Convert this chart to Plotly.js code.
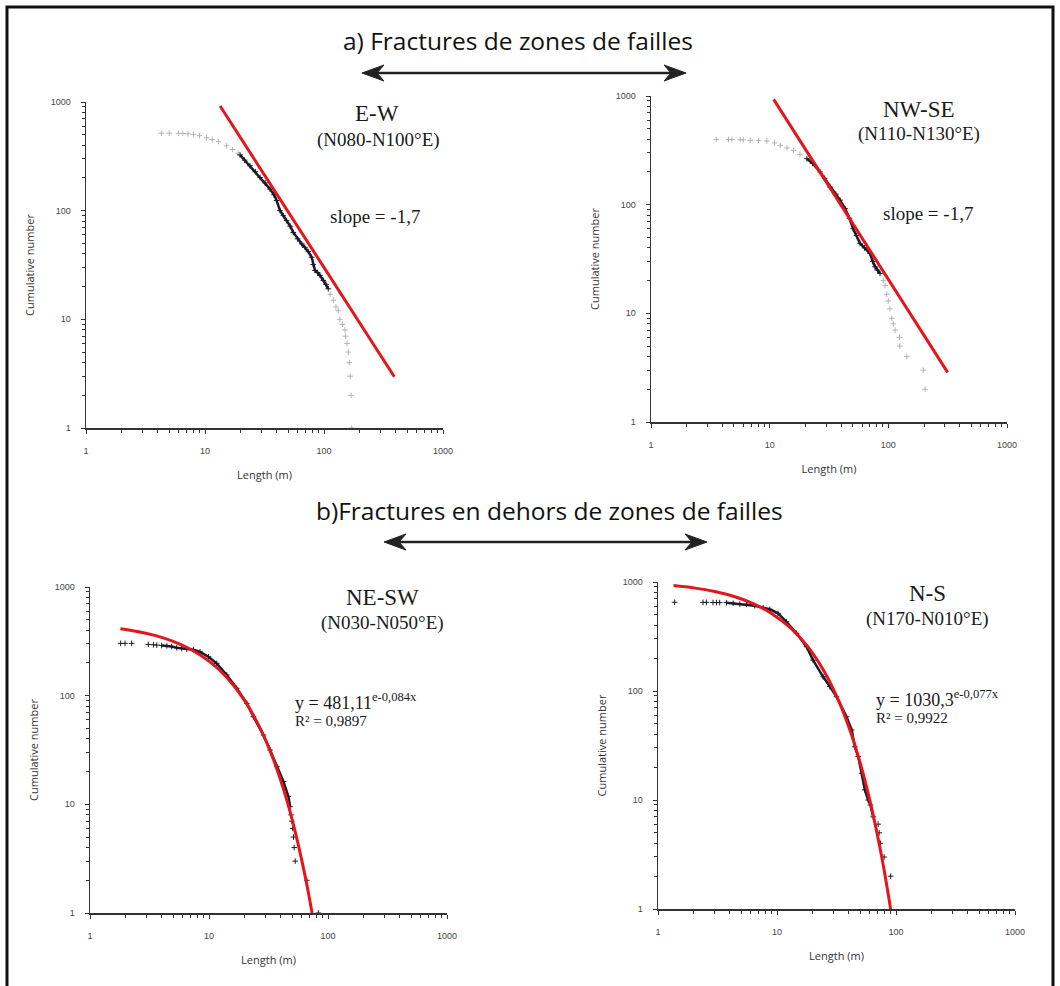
<!DOCTYPE html>
<html>
<head>
<meta charset="utf-8">
<script src="https://cdn.plot.ly/plotly-3.0.1.min.js"></script>
<style>html,body{margin:0;padding:0;background:#fff;}#chart{width:1060px;height:986px;}</style>
</head>
<body>
<div id="chart"></div>
<script>
// ---------- Data ----------
// a) E-W (N080-N100°E)
const EW_grey_x = [4.3, 5.0, 6.0, 6.5, 7.2, 8.0, 9.0, 10.3, 11.5, 13, 15.2, 17, 19, 113, 120, 126, 132, 136, 143, 150, 152, 156, 160, 163, 166, 169, 171];
const EW_grey_y = [516, 516, 515, 514, 510, 503, 490, 468, 452, 432, 395, 365, 338, 17, 15, 13, 12, 10, 9, 8, 7, 6, 5, 4, 3, 2, 1];
const EW_black_x = [19.7, 21.5, 23.9, 26.5, 29, 32, 35.2, 38, 40, 42.7, 45.5, 48.5, 52, 55.2, 60, 64.9, 69, 73.8, 78.7, 81, 84, 88, 92.5, 98.7, 104, 108.7];
const EW_black_y = [326, 292, 259, 228, 202, 180, 158, 140, 124, 100, 90, 81, 72, 63, 55, 49.5, 46, 42, 37.3, 32, 28.2, 27, 25.4, 22.8, 21, 19.1];
const EW_fit_x = [13.4, 390];
const EW_fit_y = [918, 2.96];

// a) NW-SE (N110-N130°E)
const NWSE_grey_x = [3.55, 4.5, 4.8, 5.65, 6.0, 6.85, 8.05, 9.47, 11, 12.3, 14, 15.9, 18, 90.8, 94, 96.9, 100, 103, 107, 110, 114, 124, 125, 143, 197, 204];
const NWSE_grey_y = [399, 398, 398, 396, 395, 391, 389, 385, 370, 351, 333, 316, 290, 20, 18, 15, 13, 11, 9, 8, 7, 6, 5, 4, 3, 2];
const NWSE_black_x = [20.6, 23, 26.6, 29, 32.3, 36, 39.2, 43.2, 47, 50.5, 54, 57.8, 63, 70.2, 74, 77.3, 81, 85.1];
const NWSE_black_y = [265, 240, 200, 175, 145, 125, 110, 92, 75, 60, 52, 44, 40, 35.5, 30, 26.8, 25, 23.3];
const NWSE_fit_x = [10.8, 316];
const NWSE_fit_y = [931, 2.86];

// b) NE-SW (N030-N050°E)
const NESW_sparse_x = [1.81, 1.97, 2.24, 3.09, 3.41, 3.64, 49, 49.7, 50.5, 51.3, 52, 53, 66.4, 83];
const NESW_sparse_y = [303, 303, 303, 296, 294, 292, 8, 7, 6, 5, 4, 3, 2, 1];
const NESW_dense_x = [4.0, 4.42, 4.86, 5.36, 5.9, 6.5, 7.4, 8.4, 9.9, 11.6, 14.1, 17.1, 20.8, 23.6, 28.7, 32.6, 37.2, 42.3, 46.5, 48.1];
const NESW_dense_y = [290, 288, 283, 276, 272, 269, 265, 253, 228, 198, 155, 117, 85, 64, 43.4, 31.6, 22.2, 16.2, 11.8, 9.5];
const NESW_fit_x = [1.8, 2.5, 3.5, 5, 7, 10, 14, 20, 27, 35, 45, 55, 65, 70, 73.5];
const NESW_fit_y = [413.6, 390, 358.6, 316.1, 267.2, 207.7, 148.4, 89.7, 49.8, 25.4, 10.98, 4.74, 2.05, 1.345, 1.0];

// b) N-S (N170-N010°E)
const NS_sparse_x = [1.38, 2.39, 2.55, 2.9, 3.1, 3.3, 70.8, 72.2, 74, 79.5, 90.2];
const NS_sparse_y = [651, 650, 650, 648, 648, 647, 6, 5, 4, 3, 2];
const NS_dense_x = [3.76, 4.28, 4.87, 5.54, 6.5, 7.64, 8.7, 10.2, 12, 14.6, 17.7, 20.1, 24.4, 27.8, 31.6, 38.4, 42.4, 45.1, 48.1, 51.4, 54.7, 58.4, 61, 64.3];
const NS_dense_y = [646, 638, 628, 624, 606, 581, 562, 516, 432, 338, 255, 192, 135, 110, 88.7, 58, 43.9, 30.8, 25, 17.6, 12.4, 10, 9, 7];
const NS_fit_x = [1.35, 2, 3, 4.5, 6.5, 9, 13, 18, 25, 33, 42, 52, 62, 72, 80, 86, 90.1];
const NS_fit_y = [928.5, 883.3, 817.8, 728.5, 624.6, 515.3, 378.6, 257.7, 150.3, 81.2, 40.6, 18.8, 8.7, 4.03, 2.18, 1.37, 1.0];

const tickVals = [1, 10, 100, 1000];
const tickText = ["1", "10", "100", "1000"];
const panelNames = ["E-W", "NW-SE", "NE-SW", "N-S"];
const panelRanges = ["(N080-N100°E)", "(N110-N130°E)", "(N030-N050°E)", "(N170-N010°E)"];
const headings = ["a) Fractures de zones de failles", "b)Fractures en dehors de zones de failles"];
const slopeText = "slope = -1,7";
const eqTexts = ["y = 481,11<sup>e-0,084x</sup>", "y = 1030,3<sup>e-0,077x</sup>"];
const r2Texts = ["R² = 0,9897", "R² = 0,9922"];

// ---------- Layout helpers ----------
const W = 1060, H = 986;
const px = v => v / W;
const py = v => 1 - v / H;

const BLACK = '#1b1b2b', GREY = '#b3b3b3', RED = '#e5161b';
const mk = (c) => ({symbol: 'cross-thin', size: 4, line: {width: 1, color: c}, color: c});

function tr(x, y, ax, mode, color) {
  return {x: x, y: y, xaxis: ax[0], yaxis: ax[1], mode: mode, marker: mk(color), line: {color: color, width: 2.5}, hoverinfo: 'x+y'};
}
const A1 = ['x', 'y'], A2 = ['x2', 'y2'], A3 = ['x3', 'y3'], A4 = ['x4', 'y4'];
const data = [
  tr(EW_grey_x, EW_grey_y, A1, 'markers', GREY),
  tr(EW_black_x, EW_black_y, A1, 'lines+markers', BLACK),
  {x: EW_fit_x, y: EW_fit_y, xaxis: 'x', yaxis: 'y', mode: 'lines', line: {color: RED, width: 3}},
  tr(NWSE_grey_x, NWSE_grey_y, A2, 'markers', GREY),
  tr(NWSE_black_x, NWSE_black_y, A2, 'lines+markers', BLACK),
  {x: NWSE_fit_x, y: NWSE_fit_y, xaxis: 'x2', yaxis: 'y2', mode: 'lines', line: {color: RED, width: 3}},
  tr(NESW_sparse_x, NESW_sparse_y, A3, 'markers', BLACK),
  tr(NESW_dense_x, NESW_dense_y, A3, 'lines+markers', BLACK),
  {x: NESW_fit_x, y: NESW_fit_y, xaxis: 'x3', yaxis: 'y3', mode: 'lines', line: {color: RED, width: 3, shape: 'spline'}},
  tr(NS_sparse_x, NS_sparse_y, A4, 'markers', BLACK),
  tr(NS_dense_x, NS_dense_y, A4, 'lines+markers', BLACK),
  {x: NS_fit_x, y: NS_fit_y, xaxis: 'x4', yaxis: 'y4', mode: 'lines', line: {color: RED, width: 3, shape: 'spline'}}
];

function xax(d0, d1, anchor) {
  return {domain: [px(d0), px(d1)], anchor: anchor, type: 'log', range: [0, 3],
    tickvals: tickVals, ticktext: tickText, ticks: 'outside', ticklen: 4, tickcolor: '#333',
    minor: {ticks: 'outside', ticklen: 3, tickcolor: '#333', dtick: 'D1', showgrid: false},
    showline: true, linecolor: '#333', linewidth: 1.5, showgrid: false, zeroline: false,
    tickfont: {family: 'Liberation Sans, Arial, sans-serif', size: 9, color: '#444'},
    ticklabelstandoff: 10,
    title: {text: 'Length (m)', font: {family: 'Open Sans, sans-serif', size: 11, color: '#333'}, standoff: 16},
    automargin: false, fixedrange: true};
}
function yax(d0, d1, anchor) {
  return {domain: [py(d1), py(d0)], anchor: anchor, type: 'log', range: [0, 3],
    tickvals: tickVals, ticktext: tickText, ticks: 'outside', ticklen: 4, tickcolor: '#333',
    minor: {ticks: 'outside', ticklen: 3, tickcolor: '#333', dtick: 'D1', showgrid: false},
    showline: true, linecolor: '#333', linewidth: 1.5, showgrid: false, zeroline: false,
    tickfont: {family: 'Liberation Sans, Arial, sans-serif', size: 9, color: '#444'},
    ticklabelstandoff: 8,
    title: {text: 'Cumulative number', font: {family: 'Open Sans, sans-serif', size: 11, color: '#333'}, standoff: 14},
    automargin: false, fixedrange: true};
}

const serif = 'Liberation Serif, Times New Roman, serif';
function txt(x, y, text, size, xanchor) {
  return {xref: 'paper', yref: 'paper', x: px(x), y: py(y), text: text, showarrow: false,
    xanchor: xanchor || 'center', yanchor: 'middle', font: {family: serif, size: size, color: '#1a1a1a'}};
}
// double-headed arrow drawn with shapes (shaft + two notched heads)
function arrowShapes(x0, x1, y) {
  const c = '#222';
  const head = (tip, dir) => {
    const b = tip - dir * 22, n = tip - dir * 15;
    return {type: 'path', xref: 'paper', yref: 'paper', fillcolor: c, line: {color: c, width: 1},
      path: `M ${px(tip)} ${py(y)} L ${px(b)} ${py(y - 8)} L ${px(n)} ${py(y)} L ${px(b)} ${py(y + 8)} Z`};
  };
  return [
    {type: 'line', xref: 'paper', yref: 'paper', x0: px(x0 + 10), x1: px(x1 - 10), y0: py(y), y1: py(y), line: {color: c, width: 2.5}},
    head(x1, 1), head(x0, -1)
  ];
}
const sans = 'Open Sans, Noto Sans, sans-serif';

const layout = {
  width: W, height: H, margin: {l: 0, r: 0, t: 0, b: 0}, paper_bgcolor: '#fff', plot_bgcolor: '#fff',
  showlegend: false,
  xaxis: xax(86, 443, 'y'), yaxis: yax(102, 428, 'x'),
  xaxis2: xax(651, 1007, 'y2'), yaxis2: yax(96, 422, 'x2'),
  xaxis3: xax(90, 447, 'y3'), yaxis3: yax(587, 913, 'x3'),
  xaxis4: xax(658, 1015, 'y4'), yaxis4: yax(582, 909, 'x4'),
  annotations: [
    {xref: 'paper', yref: 'paper', x: px(518), y: py(41), text: headings[0], showarrow: false, xanchor: 'center', yanchor: 'middle', font: {family: sans, size: 24.5, color: '#111'}},
    {xref: 'paper', yref: 'paper', x: px(549), y: py(511), text: headings[1], showarrow: false, xanchor: 'center', yanchor: 'middle', font: {family: sans, size: 24.5, color: '#111'}},
    txt(377, 113, panelNames[0], 23), txt(378, 140, panelRanges[0], 19), txt(375, 217, slopeText, 19),
    txt(919, 109, panelNames[1], 23), txt(919, 134, panelRanges[1], 19), txt(928, 213, slopeText, 19),
    txt(382, 597, panelNames[2], 23), txt(382, 623, panelRanges[2], 19),
    txt(293, 701, eqTexts[0], 18, 'left'), txt(293, 721, r2Texts[0], 15, 'left'),
    txt(927, 593, panelNames[3], 23), txt(927, 619, panelRanges[3], 19),
    txt(874, 698, eqTexts[1], 18, 'left'), txt(874, 718, r2Texts[1], 15, 'left')
  ],
  shapes: [
    {type: 'rect', xref: 'paper', yref: 'paper', x0: px(7), x1: px(1053), y0: -0.02, y1: py(7), line: {color: '#111', width: 3}}
  ].concat(arrowShapes(362, 686, 73), arrowShapes(384, 707, 542))
};

Plotly.newPlot('chart', data, layout, {displayModeBar: false, staticPlot: true});
</script>
</body>
</html>
